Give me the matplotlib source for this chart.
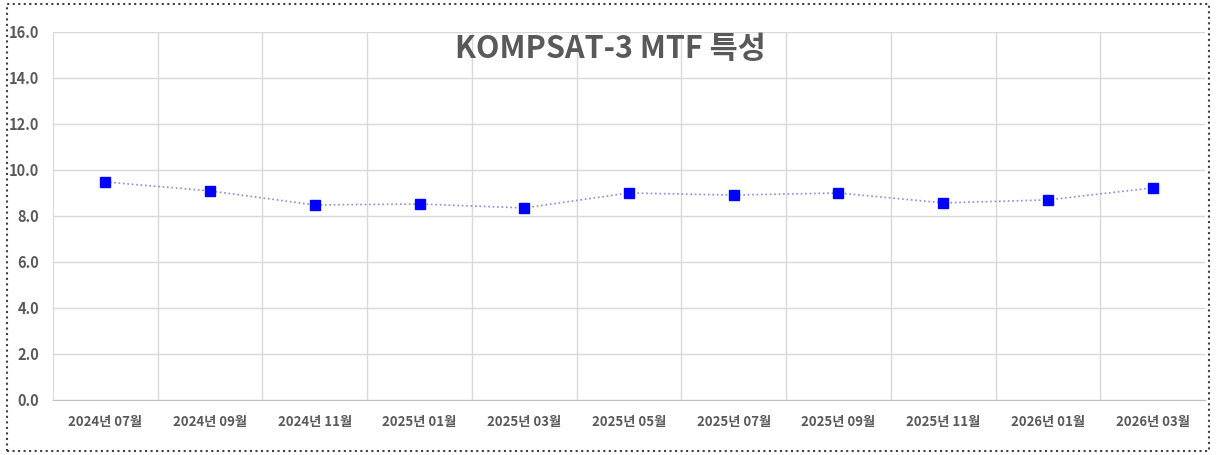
import matplotlib.pyplot as plt
from matplotlib.patches import Rectangle
from matplotlib.ticker import MultipleLocator, FormatStrFormatter

plt.rcParams['font.family'] = ['Noto Sans CJK KR', 'DejaVu Sans']

months = ['2024년 07월', '2024년 09월', '2024년 11월', '2025년 01월', '2025년 03월',
          '2025년 05월', '2025년 07월', '2025년 09월', '2025년 11월', '2026년 01월',
          '2026년 03월']
mtf = [9.48, 9.09, 8.48, 8.52, 8.35, 9.0, 8.91, 9.0, 8.57, 8.7, 9.22]

fig = plt.figure(figsize=(12.16, 4.55), dpi=100)
ax = fig.add_axes([0.0436, 0.1209, 0.9474, 0.8088])

x = list(range(len(months)))
ax.plot(x, mtf, linestyle=':', color='#8c8cd9', linewidth=1.2,
        marker='s', markersize=7.5, markerfacecolor='#0000ff',
        markeredgecolor='#0000ff', zorder=3)

ax.set_xlim(-0.5, len(months) - 0.5)
ax.set_ylim(0, 16)
ax.yaxis.set_major_locator(MultipleLocator(2))
ax.yaxis.set_major_formatter(FormatStrFormatter('%.1f'))
ax.set_xticks(x)
ax.set_xticklabels(months)

# category boundary grid lines
for b in range(1, len(months)):
    ax.axvline(b - 0.5, color='#d9d9d9', linewidth=1, zorder=1)
ax.grid(axis='y', color='#d9d9d9', linewidth=1, zorder=1)

for s in ['top', 'right']:
    ax.spines[s].set_visible(False)
ax.spines['left'].set_color('#d9d9d9')
ax.spines['bottom'].set_color('#bfbfbf')
ax.tick_params(length=0, labelcolor='#595959')
ax.tick_params(axis='x', pad=11)
ax.tick_params(axis='y', pad=10)
for lab in ax.get_xticklabels():
    lab.set_fontsize(9.5)
    lab.set_fontweight('bold')
for lab in ax.get_yticklabels():
    lab.set_fontsize(10.5)
    lab.set_fontweight('bold')

ax.text(0.484, 0.955, 'KOMPSAT-3 MTF 특성', transform=ax.transAxes,
        ha='center', va='center', fontsize=22, fontweight='bold', color='#595959')

fig.patches.append(Rectangle((0.006, 0.008), 0.988, 0.984, transform=fig.transFigure,
                             fill=False, edgecolor='#404040', linestyle=':', linewidth=1.5))

fig.savefig('out.png', dpi=100)
